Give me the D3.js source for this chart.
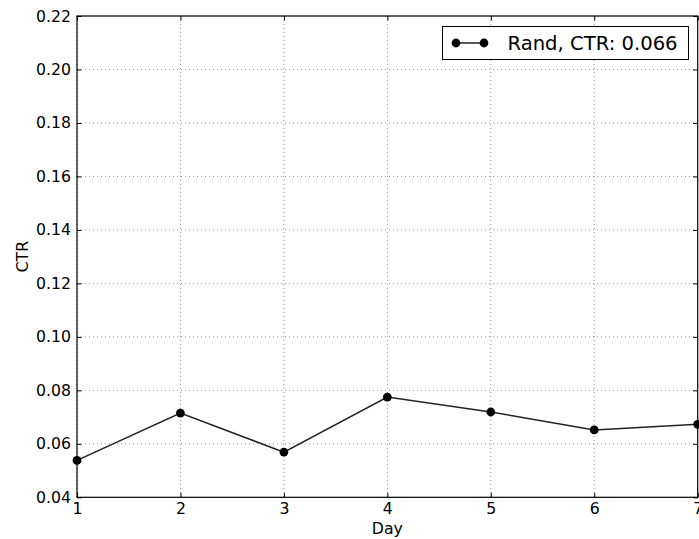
<!DOCTYPE html>
<html><head><meta charset="utf-8">
<script src="https://cdn.jsdelivr.net/npm/d3@7"></script>
<style>body{margin:0;background:#fff}svg{display:block}text{font-family:"DejaVu Sans",sans-serif}</style>
</head><body>
<svg id="c" width="699" height="539"></svg>
<script>
const days = [1, 2, 3, 4, 5, 6, 7];
const ctr = [0.0538, 0.0715, 0.0569, 0.0775, 0.0719, 0.0652, 0.0673];
const yTicks = [0.04, 0.06, 0.08, 0.10, 0.12, 0.14, 0.16, 0.18, 0.20, 0.22];
const xTicks = [1, 2, 3, 4, 5, 6, 7];
const seriesName = "Rand, CTR: 0.066";

const svg = d3.select("#c");
const L = 77, R = 697.7, T = 16, B = 497.3;
const x = d3.scaleLinear().domain([1, 7]).range([L, R]);
const y = d3.scaleLinear().domain([0.04, 0.22]).range([B, T]);

// grid
const g = svg.append("g");
g.selectAll(".gx").data(xTicks).enter().append("line")
  .attr("x1", d => x(d)).attr("x2", d => x(d)).attr("y1", T).attr("y2", B)
  .attr("stroke", "#000").attr("stroke-width", 0.6).attr("stroke-dasharray", "1,3").attr("opacity", 0.7);
g.selectAll(".gy").data(yTicks).enter().append("line")
  .attr("x1", L).attr("x2", R).attr("y1", d => y(d)).attr("y2", d => y(d))
  .attr("stroke", "#000").attr("stroke-width", 0.6).attr("stroke-dasharray", "1,3").attr("opacity", 0.7);

// line + markers
const line = d3.line().x((d, i) => x(days[i])).y(d => y(d));
svg.append("path").datum(ctr).attr("d", line).attr("fill", "none")
  .attr("stroke", "#222").attr("stroke-width", 1.5);
svg.selectAll(".pt").data(ctr).enter().append("circle")
  .attr("cx", (d, i) => x(days[i])).attr("cy", d => y(d)).attr("r", 4.4).attr("fill", "#000");

// axes (inward ticks on all sides)
const tl = 4.5;
svg.append("g").attr("transform", `translate(0,${B})`)
  .call(d3.axisBottom(x).tickValues(xTicks).tickFormat(d3.format("d")).tickSizeInner(-tl).tickSizeOuter(0).tickPadding(6))
  .call(a => a.select(".domain").remove());
svg.append("g").attr("transform", `translate(0,${T})`)
  .call(d3.axisTop(x).tickValues(xTicks).tickFormat("").tickSizeInner(-tl).tickSizeOuter(0))
  .call(a => a.select(".domain").remove());
svg.append("g").attr("transform", `translate(${L},0)`)
  .call(d3.axisLeft(y).tickValues(yTicks).tickFormat(d3.format(".2f")).tickSizeInner(-tl).tickSizeOuter(0).tickPadding(6))
  .call(a => a.select(".domain").remove());
svg.append("g").attr("transform", `translate(${R},0)`)
  .call(d3.axisRight(y).tickValues(yTicks).tickFormat("").tickSizeInner(-tl).tickSizeOuter(0))
  .call(a => a.select(".domain").remove());
svg.selectAll(".tick text").attr("font-size", 15.7).attr("fill", "#000").attr("font-family", "DejaVu Sans");
svg.selectAll(".tick line").attr("stroke", "#000");

svg.append("rect").attr("x", L).attr("y", T).attr("width", R - L).attr("height", B - T)
  .attr("fill", "none").attr("stroke", "#000").attr("stroke-width", 1.2);

// axis labels
svg.append("text").attr("x", (L + R) / 2).attr("y", 534).attr("text-anchor", "middle")
  .attr("font-size", 15.7).text("Day");
svg.append("text").attr("transform", `translate(27.5,${(T + B) / 2}) rotate(-90)`).attr("text-anchor", "middle")
  .attr("font-size", 15.7).text("CTR");

// legend
const lg = svg.append("g");
lg.append("rect").attr("x", 442.5).attr("y", 26.5).attr("width", 246).attr("height", 33)
  .attr("fill", "#fff").attr("stroke", "#000").attr("stroke-width", 1);
lg.append("line").attr("x1", 456).attr("x2", 484).attr("y1", 43).attr("y2", 43).attr("stroke", "#222").attr("stroke-width", 1.5);
lg.selectAll(".lm").data([456, 484]).enter().append("circle").attr("cx", d => d).attr("cy", 43).attr("r", 4.4).attr("fill", "#000");
lg.append("text").attr("x", 507.5).attr("y", 49.5).attr("font-size", 19.6).text(seriesName);
</script>
</body></html>
